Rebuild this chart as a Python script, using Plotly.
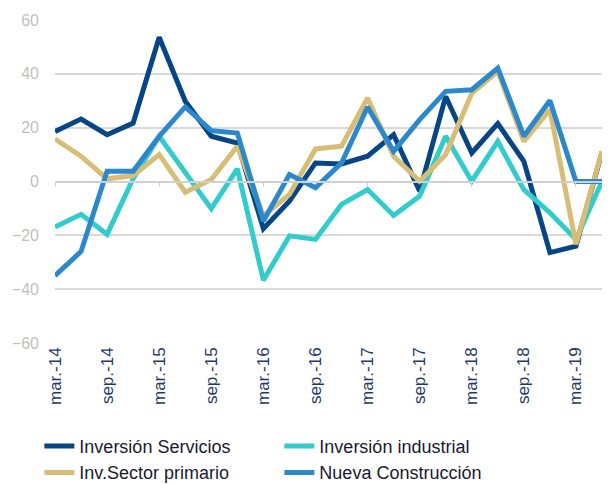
import plotly.graph_objects as go

quarters = ["mar.-14", "jun.-14", "sep.-14", "dic.-14",
            "mar.-15", "jun.-15", "sep.-15", "dic.-15",
            "mar.-16", "jun.-16", "sep.-16", "dic.-16",
            "mar.-17", "jun.-17", "sep.-17", "dic.-17",
            "mar.-18", "jun.-18", "sep.-18", "dic.-18",
            "mar.-19", "jun.-19"]

inversion_servicios = [18.6, 23.2, 17.4, 21.7, 53.6, 29.8, 16.8, 14.3, -17.5, -7.3, 6.9,
                       6.5, 9.4, 17.4, -3.6, 31.6, 10.6, 21.5, 7.5, -26.4, -24.0, 11.0]
inversion_industrial = [-16.9, -12.2, -19.6, 1.0, 16.8, 3.3, -10.1, 4.7, -36.7, -20.2, -21.5,
                        -8.5, -3.0, -12.6, -5.4, 16.8, 0.1, 14.9, -3.0, -11.6, -21.5, 0.0]
inv_sector_primario = [15.8, 9.4, 1.0, 2.2, 10.0, -4.0, 0.7, 13.1, -12.8, -4.8, 12.1,
                       13.1, 31.0, 9.4, 0.1, 10.0, 32.8, 40.9, 14.9, 26.7, -23.3, 11.2]
nueva_construccion = [-35.0, -26.0, 3.8, 3.8, 16.8, 27.7, 18.9, 18.0, -14.7, 2.6, -2.3,
                      6.9, 27.7, 11.2, 23.0, 33.5, 34.1, 42.1, 16.8, 30.1, 0.0, 0.0]

series_names = ["Inversión Servicios", "Inversión industrial",
                "Inv.Sector primario", "Nueva Construcción"]
series_values = [inversion_servicios, inversion_industrial,
                 inv_sector_primario, nueva_construccion]
series_colors = ["#064685", "#33CCCC", "#D8BD76", "#2B88CA"]

tick_idx = list(range(0, len(quarters), 2))
tick_text = [quarters[i] for i in tick_idx]
y_ticks = [-60, -40, -20, 0, 20, 40, 60]
x_idx = list(range(len(quarters)))

fig = go.Figure()
for name, vals, col in zip(series_names, series_values, series_colors):
    fig.add_trace(go.Scatter(x=x_idx, y=vals, mode="lines", name=name,
                             line=dict(color=col, width=5),
                             hoverinfo="skip"))
# helper trace so the zero-line axis (with its tick marks) is drawn
fig.add_trace(go.Scatter(x=x_idx, y=[None] * len(x_idx), xaxis="x2", mode="lines",
                         showlegend=False, hoverinfo="skip"))

font_family = "Liberation Sans, Arial, sans-serif"
fig.update_layout(
    width=603, height=476,
    margin=dict(l=47, r=9, t=12, b=141, autoexpand=False),
    paper_bgcolor="white", plot_bgcolor="white",
    font=dict(family=font_family),
    showlegend=True,
    legend=dict(orientation="h", xref="container", yref="container",
                x=0.052, y=0.118, xanchor="left", yanchor="top",
                entrywidth=195, entrywidthmode="pixels",
                font=dict(size=18, color="#1a1a2e"),
                tracegroupgap=0, itemwidth=30),
    xaxis=dict(range=[0, len(quarters) - 1], tickmode="array", tickvals=tick_idx,
               ticktext=tick_text, tickangle=-90, showgrid=False, zeroline=False,
               showline=False, ticks="", automargin=False,
               tickfont=dict(size=17, color="#1F3A66")),
    xaxis2=dict(range=[0, len(quarters) - 1], overlaying="x", anchor="free",
                position=0.5, side="bottom", showline=True, linecolor="#D0D0D0",
                linewidth=1.5, ticks="outside", ticklen=5, tickcolor="#D0D0D0",
                tickvals=list(range(0, len(quarters), 4)), showticklabels=False,
                showgrid=False, zeroline=False, automargin=False),
    yaxis=dict(range=[-60, 60], tickvals=y_ticks, showgrid=True,
               gridcolor="#D9D9D9", gridwidth=1.5, zeroline=False, showline=False,
               ticks="", ticklabelstandoff=15, automargin=False,
               tickfont=dict(size=16, color="#BFBFBF")),
)

fig.write_html("out.html")
